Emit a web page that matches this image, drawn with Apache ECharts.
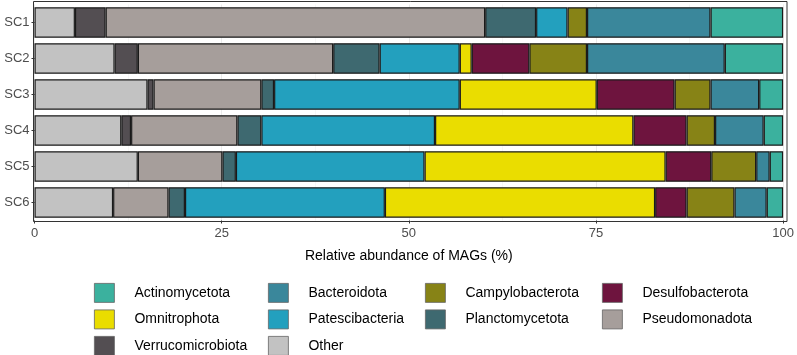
<!DOCTYPE html>
<html>
<head>
<meta charset="utf-8">
<script src="https://cdn.jsdelivr.net/npm/echarts@6/dist/echarts.min.js"></script>
<style>
html,body{margin:0;padding:0;background:#fff;}
#chart{width:797px;height:355px;}
</style>
</head>
<body>
<div id="chart"></div>
<script>
// ---- data (percent of MAGs) ----
const categories = ['SC1', 'SC2', 'SC3', 'SC4', 'SC5', 'SC6'];
const other             = [5.4, 10.7, 15.1, 11.6, 13.8, 10.5];
const verrucomicrobiota = [4.1, 3.1, 0.8, 1.3, 0, 0];
const pseudomonadota    = [50.7, 26.1, 14.4, 14.2, 11.3, 7.4];
const planctomycetota   = [6.8, 6.2, 1.7, 3.2, 1.8, 2.2];
const patescibacteria   = [4.2, 10.7, 24.8, 23.2, 25.2, 26.7];
const omnitrophota      = [0, 1.6, 18.3, 26.5, 32.2, 36.1];
const desulfobacterota  = [0, 7.7, 10.4, 7.1, 6.1, 4.2];
const campylobacterota  = [2.6, 7.7, 4.8, 3.8, 6.0, 6.4];
const bacteroidota      = [16.5, 18.4, 6.5, 6.5, 1.8, 4.3];
const actinomycetota    = [9.7, 7.8, 3.2, 2.6, 1.8, 2.2];
const xTicks = [0, 25, 50, 75, 100];

// stacking order, left to right
const stackOrder = [
  ['Other', other, '#C2C2C2'],
  ['Verrucomicrobiota', verrucomicrobiota, '#534E52'],
  ['Pseudomonadota', pseudomonadota, '#A69E9B'],
  ['Planctomycetota', planctomycetota, '#3E6970'],
  ['Patescibacteria', patescibacteria, '#23A0BE'],
  ['Omnitrophota', omnitrophota, '#EADD00'],
  ['Desulfobacterota', desulfobacterota, '#6E143E'],
  ['Campylobacterota', campylobacterota, '#878316'],
  ['Bacteroidota', bacteroidota, '#3A879B'],
  ['Actinomycetota', actinomycetota, '#3BB19E']
];
const legendOrder = ['Actinomycetota', 'Bacteroidota', 'Campylobacterota', 'Desulfobacterota',
  'Omnitrophota', 'Patescibacteria', 'Planctomycetota', 'Pseudomonadota',
  'Verrucomicrobiota', 'Other'];

const FONT = '"Liberation Sans", Arial, Helvetica, sans-serif';
const colLeft = [94, 268, 425, 602];
const rowTop = [283, 309.5, 336];

const legends = legendOrder.map((name, i) => ({
  data: [name],
  left: colLeft[i % 4],
  top: rowTop[Math.floor(i / 4)],
  orient: 'horizontal',
  padding: 0,
  icon: 'rect',
  itemWidth: 20,
  itemHeight: 19,
  selectedMode: false,
  itemStyle: { borderColor: '#666', borderWidth: 0.8 },
  textStyle: { fontFamily: FONT, fontSize: 14, color: '#000', padding: [0, 0, 0, 15] }
}));

const series = stackOrder.map(([name, vals, color]) => ({
  name: name,
  type: 'bar',
  stack: 'total',
  barWidth: '85%',
  data: vals.map(v => (v === 0 ? null : v)),
  itemStyle: { color: color, borderColor: '#1A1A1A', borderWidth: 1.2 },
  emphasis: { disabled: true }
}));

const chart = echarts.init(document.getElementById('chart'), null, { renderer: 'canvas' });
chart.setOption({
  backgroundColor: '#fff',
  animation: false,
  grid: { left: 34.5, right: 11, top: 4.5, height: 216 },
  legend: legends,
  xAxis: {
    type: 'value',
    min: xTicks[0],
    max: xTicks[xTicks.length - 1],
    interval: 25,
    name: 'Relative abundance of MAGs (%)',
    nameLocation: 'middle',
    nameGap: 29,
    nameTextStyle: { fontFamily: FONT, fontSize: 14, color: '#000' },
    axisLine: { show: false },
    axisTick: { show: true, length: 3, lineStyle: { color: '#333', width: 1 } },
    axisLabel: { fontFamily: FONT, fontSize: 13, color: '#4D4D4D', margin: 6 },
    splitLine: { show: true, lineStyle: { color: '#EBEBEB', width: 1 } },
    minorTick: { show: false, splitNumber: 2 },
    minorSplitLine: { show: true, lineStyle: { color: '#F2F2F2', width: 0.6 } }
  },
  yAxis: {
    type: 'category',
    data: categories,
    inverse: true,
    axisLine: { show: false },
    axisTick: { show: true, length: 3, alignWithLabel: true, lineStyle: { color: '#333', width: 1 } },
    axisLabel: { fontFamily: FONT, fontSize: 13, color: '#4D4D4D', margin: 5 },
    splitLine: { show: false }
  },
  graphic: [{
    type: 'rect',
    z: 100,
    silent: true,
    shape: { x: 33.5, y: 1.5, width: 753.5, height: 220 },
    style: { fill: 'none', stroke: '#333', lineWidth: 1 }
  }],
  series: series
});
</script>
</body>
</html>
